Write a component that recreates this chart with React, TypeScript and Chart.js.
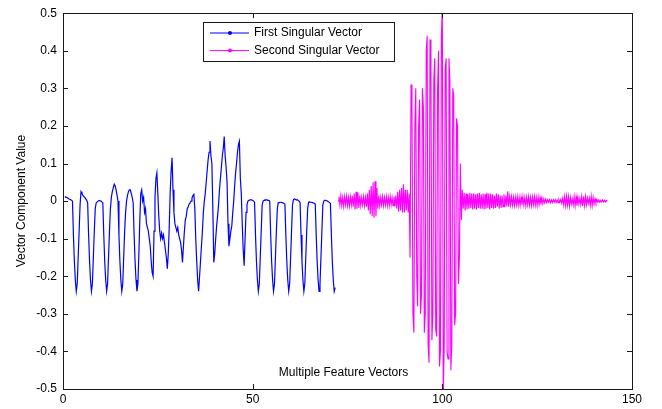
import React, { useEffect, useRef } from 'react';
import { Chart, registerables } from 'chart.js';

Chart.register(...registerables);

const X_TICKS = [0, 50, 100, 150];
const Y_TICKS = [-0.5, -0.4, -0.3, -0.2, -0.1, 0, 0.1, 0.2, 0.3, 0.4, 0.5];
const SERIES_LABELS = ['First Singular Vector', 'Second Singular Vector'];
const X_TITLE = 'Multiple Feature Vectors';
const Y_TITLE = 'Vector Component Value';

const STEP = 0.25;
const FIRST_START = 0.5;
const FIRST_VALUES = [
  0.012, 0.01, 0.01, 0.008, 0.006, 0.005, 0.004, 0.002, 0.0, -0.09, -0.16, -0.21, -0.24, -0.22, -0.15, -0.08,
  -0.01, 0.025, 0.02, 0.015, 0.012, 0.01, 0.006, 0.002, -0.005, -0.09, -0.16, -0.21, -0.24, -0.22, -0.15, -0.08,
  -0.02, -0.005, -0.002, 0.0, 0.002, 0.002, 0.0, -0.002, -0.005, -0.09, -0.16, -0.21, -0.24, -0.22, -0.15, -0.08,
  -0.02, 0.01, 0.025, 0.035, 0.045, 0.04, 0.03, 0.015, 0.0, -0.09, -0.16, -0.21, -0.24, -0.22, -0.15, -0.08,
  -0.03, 0.0, 0.015, 0.025, 0.03, 0.03, 0.02, 0.01, -0.005, -0.09, -0.16, -0.21, -0.24, -0.22, -0.14, -0.05,
  0.02, 0.03, 0.0, 0.01, -0.03, -0.02, -0.06, -0.07, -0.08, -0.1, -0.12, -0.16, -0.19, -0.2, -0.08, 0.01,
  0.06, 0.075, 0.02, -0.04, -0.08, -0.1, -0.085, -0.1, -0.09, -0.11, -0.13, -0.15, -0.18, -0.14, -0.07, 0.02,
  0.08, 0.115, 0.03, -0.03, -0.06, -0.07, -0.08, -0.07, -0.09, -0.1, -0.11, -0.13, -0.163, -0.12, -0.08, -0.05,
  -0.04, -0.02, -0.015, -0.008, -0.005, 0.0, 0.008, 0.015, 0.018, -0.02, -0.1, -0.16, -0.21, -0.24, -0.2, -0.16,
  -0.12, -0.08, -0.03, 0.0, 0.02, 0.05, 0.08, 0.11, 0.13, 0.16, 0.12, 0.1, -0.02, -0.163, -0.14, -0.1,
  -0.066, -0.04, -0.01, 0.03, 0.06, 0.09, 0.12, 0.14, 0.172, 0.12, 0.09, 0.05, -0.06, -0.12, -0.1, -0.08,
  -0.066, -0.03, 0.0, 0.04, 0.075, 0.1, 0.13, 0.15, 0.159, 0.06, 0.02, -0.06, -0.128, -0.172, -0.1, -0.03,
  -0.01, 0.0, 0.002, 0.003, 0.004, 0.003, 0.002, 0.0, -0.003, -0.09, -0.16, -0.21, -0.24, -0.22, -0.15, -0.08,
  -0.01, 0.0, 0.002, 0.003, 0.003, 0.003, 0.002, 0.002, 0.0, -0.09, -0.16, -0.21, -0.24, -0.22, -0.15, -0.08,
  -0.02, -0.004, -0.004, -0.003, -0.003, -0.004, -0.005, -0.006, -0.008, -0.09, -0.16, -0.21, -0.24, -0.22, -0.15, -0.08,
  -0.01, 0.004, 0.006, 0.005, 0.003, 0.004, 0.002, 0.0, -0.004, -0.09, -0.16, -0.21, -0.24, -0.22, -0.15, -0.08,
  -0.02, -0.003, -0.002, -0.003, -0.003, -0.004, -0.005, -0.006, -0.008, -0.09, -0.16, -0.21, -0.24, -0.22, -0.15, -0.08,
  -0.01, 0.0, 0.002, 0.002, 0.001, 0.0, -0.002, -0.004, -0.006, -0.09, -0.16, -0.21, -0.24, -0.23,
];

const SECOND_START = 72.5;
const SECOND_VALUES = [
  // low band
  0.0, 0.012, -0.01, 0.014, -0.012, 0.01, -0.014, 0.012, -0.01, 0.013, -0.012, 0.01, -0.013, 0.012, -0.01, 0.014,
  -0.015, 0.02, -0.022, 0.025, -0.02, 0.022, -0.018, 0.015,
  -0.012, 0.01, -0.01, 0.012, -0.012, 0.01, -0.015, 0.02,
  -0.025, 0.03, -0.035, 0.04, -0.04, 0.05, -0.044, 0.053, -0.04, 0.035, -0.02, 0.015,
  -0.012, 0.01, -0.01, 0.012, -0.012, 0.01, -0.01, 0.012, -0.012, 0.01, -0.012, 0.012, -0.01, 0.01, -0.012, 0.012, -0.014, 0.015,
  -0.02, 0.025, -0.028, 0.03, -0.025, 0.035, -0.03, 0.045, -0.03, 0.03, -0.025, 0.03, -0.03, 0.02,
  // large oscillation
  -0.15, 0.31, 0.25, -0.3, -0.35, 0.2, 0.3, -0.2, -0.28, 0.2, 0.27, -0.3, -0.25, 0.3,
  0.25, -0.35, -0.3, 0.4, 0.44, -0.38, -0.43, 0.43, 0.35, -0.37, -0.3, 0.32, 0.38, -0.34,
  -0.36, 0.3, 0.4, -0.44, -0.4, 0.44, 0.52, -0.52, -0.38, 0.35, 0.38, -0.4, -0.42, 0.38,
  0.32, -0.45, -0.38, 0.3, 0.28, -0.33, -0.3, 0.22, 0.2, -0.22, -0.15, 0.1, -0.05, 0.03,
  // trailing band
  -0.02, 0.022, -0.025, 0.02, -0.022, 0.018, -0.02, 0.022, -0.018, 0.02,
  -0.022, 0.02, -0.02, 0.018, -0.022, 0.02, -0.018, 0.022, -0.02, 0.018,
  -0.02, 0.02, -0.022, 0.018, -0.02, 0.022, -0.018, 0.02, -0.022, 0.02,
  -0.018, 0.018, -0.02, 0.015, -0.018, 0.02, -0.015, 0.018, -0.02, 0.015,
  -0.018, 0.015, -0.015, 0.018, -0.016, 0.015, -0.014, 0.026, -0.015, 0.012,
  -0.01, 0.012, -0.011, 0.01, -0.012, 0.011, -0.01, 0.012, -0.011, 0.01,
  -0.012, 0.011, -0.01, 0.012, -0.011, 0.01, -0.012, 0.011, -0.01, 0.012,
  -0.011, 0.01, -0.012, 0.011, -0.01, 0.012, -0.011, 0.01, -0.012, 0.011,
  -0.01, 0.01, -0.009, 0.008, -0.007, 0.006, -0.005, 0.005,
  -0.004, 0.004, -0.003, 0.004, -0.004, 0.003, -0.004, 0.004, -0.003, 0.004, -0.004, 0.003, -0.004, 0.004, -0.003, 0.005, -0.006, 0.008,
  -0.01, 0.012, -0.012, 0.013, -0.011, 0.012, -0.013, 0.01, -0.008, 0.006,
  -0.01, 0.012, -0.013, 0.012, -0.012, 0.01, -0.008, 0.007, -0.01, 0.012,
  -0.013, 0.013, -0.012, 0.012, -0.01, 0.008, -0.006, 0.008, -0.012, 0.013,
  -0.012, 0.01, -0.008, 0.006, -0.005, 0.004,
  -0.003, 0.003, -0.003, 0.002, -0.002, 0.003, -0.002, 0.002, -0.002, 0.002, 0.0,
];

const FONT = '"Liberation Sans", Arial, Helvetica, sans-serif';

const framePlugin = {
  id: 'matlabFrame',
  afterDraw(chart: any) {
    const { ctx, chartArea: a, scales } = chart;
    const xs = scales.x;
    const ys = scales.y;
    ctx.save();
    ctx.strokeStyle = '#1a1a1a';
    ctx.lineWidth = 1;
    ctx.strokeRect(Math.round(a.left) + 0.5, Math.round(a.top) + 0.5, Math.round(a.right - a.left), Math.round(a.bottom - a.top));
    const tl = 5;
    ctx.beginPath();
    X_TICKS.forEach((v) => {
      const px = Math.round(xs.getPixelForValue(v)) + 0.5;
      ctx.moveTo(px, a.bottom);
      ctx.lineTo(px, a.bottom - tl);
      ctx.moveTo(px, a.top);
      ctx.lineTo(px, a.top + tl);
    });
    Y_TICKS.forEach((v) => {
      const py = Math.round(ys.getPixelForValue(v)) + 0.5;
      ctx.moveTo(a.left, py);
      ctx.lineTo(a.left + tl, py);
      ctx.moveTo(a.right, py);
      ctx.lineTo(a.right - tl, py);
    });
    ctx.stroke();

    ctx.fillStyle = '#000';
    ctx.font = '12px ' + FONT;
    ctx.textAlign = 'center';
    ctx.textBaseline = 'middle';
    ctx.fillText(X_TITLE, (a.left + a.right) / 2 - 4, a.bottom - 16);
    ctx.save();
    ctx.translate(22, (a.top + a.bottom) / 2);
    ctx.rotate(-Math.PI / 2);
    ctx.fillText(Y_TITLE, 0, 0);
    ctx.restore();

    const x0 = Math.round(a.left) + 140;
    const y0 = Math.round(a.top) + 9;
    const w = 191;
    const h = 39;
    ctx.fillStyle = '#fff';
    ctx.fillRect(x0, y0, w, h);
    ctx.strokeStyle = '#1a1a1a';
    ctx.strokeRect(x0 + 0.5, y0 + 0.5, w, h);
    chart.data.datasets.forEach((ds: any, i: number) => {
      const y = y0 + 11 + i * 17.6;
      ctx.strokeStyle = ds.borderColor;
      ctx.lineWidth = 1;
      ctx.beginPath();
      ctx.moveTo(x0 + 7, y);
      ctx.lineTo(x0 + 46, y);
      ctx.stroke();
      ctx.fillStyle = ds.borderColor;
      ctx.beginPath();
      ctx.arc(x0 + 27, y, 2, 0, Math.PI * 2);
      ctx.fill();
      ctx.fillStyle = '#000';
      ctx.textAlign = 'left';
      ctx.fillText(ds.label, x0 + 51, y);
    });
    ctx.restore();
  },
};

export default function App() {
  const ref = useRef<HTMLCanvasElement | null>(null);

  useEffect(() => {
    document.body.style.margin = '0';
    const canvas = ref.current;
    if (!canvas) return;
    const first = FIRST_VALUES.map((y, i) => ({ x: FIRST_START + i * STEP, y }));
    const second = SECOND_VALUES.map((y, i) => ({ x: SECOND_START + i * STEP, y }));
    const chart = new Chart(canvas, {
      type: 'line',
      data: {
        datasets: [
          {
            label: SERIES_LABELS[0],
            data: first,
            borderColor: '#0000ff',
            backgroundColor: '#0000ff',
            borderWidth: 1.2,
            pointRadius: 0,
            tension: 0,
            fill: false,
          },
          {
            label: SERIES_LABELS[1],
            data: second,
            borderColor: '#ff00ff',
            backgroundColor: '#ff00ff',
            borderWidth: 1.1,
            pointRadius: 0,
            tension: 0,
            fill: false,
          },
        ],
      },
      options: {
        animation: false,
        responsive: true,
        maintainAspectRatio: false,
        layout: { padding: { top: 11, right: 30, left: 0, bottom: 0 } },
        plugins: {
          legend: { display: false },
          tooltip: { enabled: false },
          title: { display: false },
        },
        scales: {
          x: {
            type: 'linear',
            min: 0,
            max: 150,
            grid: { display: false, drawTicks: false },
            border: { display: false },
            afterBuildTicks: (s: any) => {
              s.ticks = X_TICKS.map((v) => ({ value: v }));
            },
            afterFit: (s: any) => {
              s.height = 20;
            },
            ticks: {
              autoSkip: false,
              maxRotation: 0,
              padding: 3,
              color: '#000',
              font: { family: FONT, size: 12 },
              callback: (v: any) => String(v),
            },
          },
          y: {
            type: 'linear',
            min: -0.5,
            max: 0.5,
            grid: { display: false, drawTicks: false },
            border: { display: false },
            afterBuildTicks: (s: any) => {
              s.ticks = Y_TICKS.map((v) => ({ value: v }));
            },
            afterFit: (s: any) => {
              s.width = 63;
            },
            ticks: {
              autoSkip: false,
              padding: 6,
              color: '#000',
              font: { family: FONT, size: 12 },
              callback: (v: any) => String(Number(Number(v).toFixed(1))),
            },
          },
        },
      },
      plugins: [framePlugin],
    });
    return () => chart.destroy();
  }, []);

  return (
    <div style={{ width: 662, height: 409, position: 'relative', background: '#fff' }}>
      <canvas ref={ref} />
    </div>
  );
}
